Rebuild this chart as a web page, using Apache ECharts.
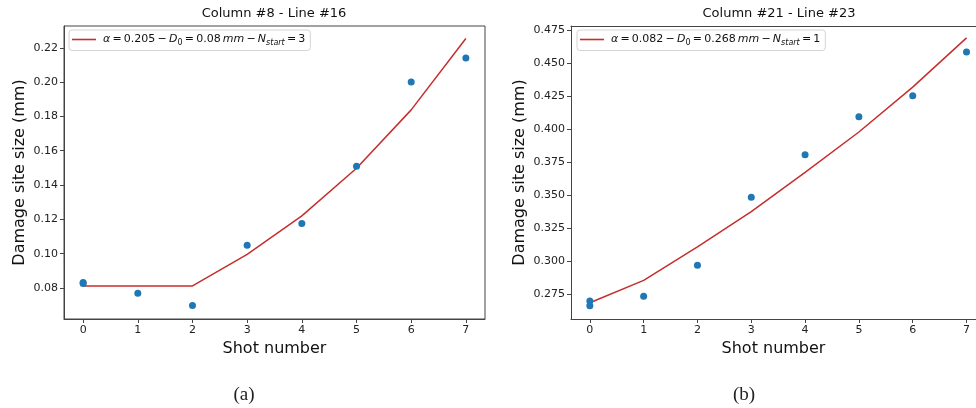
<!DOCTYPE html>
<html>
<head>
<meta charset="utf-8">
<script src="https://cdn.jsdelivr.net/npm/echarts@6/dist/echarts.min.js"></script>
<style>
  html, body { margin: 0; padding: 0; background: #fff; }
  #chart { width: 976px; height: 408px; }
</style>
</head>
<body>
<div id="chart"></div>
<script>
// 横轴刻度
const shotTicks = [0, 1, 2, 3, 4, 5, 6, 7];
const fitShots = [0, 1, 2, 3, 4, 5, 6, 7];

// (a) Column #8 - Line #16
const shotsA = [0, 0, 1, 2, 3, 4, 5, 6, 7];
const sizeA = [0.0832, 0.0826, 0.0769, 0.0697, 0.1049, 0.1175, 0.1510, 0.2001, 0.2141];
const fitA = [0.0812, 0.0812, 0.0812, 0.0996, 0.1220, 0.1498, 0.1838, 0.2254];
const yTicksA = [0.08, 0.10, 0.12, 0.14, 0.16, 0.18, 0.20, 0.22];

// (b) Column #21 - Line #23
const shotsB = [0, 0, 1, 2, 3, 4, 5, 6, 7];
const sizeB = [0.2699, 0.2664, 0.2735, 0.2970, 0.3485, 0.3808, 0.4095, 0.4255, 0.4586];
const fitB = [0.2686, 0.2856, 0.3110, 0.3376, 0.3674, 0.3980, 0.4320, 0.4693];
const yTicksB = [0.275, 0.300, 0.325, 0.350, 0.375, 0.400, 0.425, 0.450, 0.475];

const FONT = 'DejaVu Sans';
const axisColor = '#444';

function pairs(xs, ys) {
  return xs.map((x, i) => [x, ys[i]]);
}

function xAxisCfg(gridIndex, max) {
  return {
    type: 'value',
    gridIndex: gridIndex,
    min: -0.35,
    max: max,
    name: 'Shot number',
    nameLocation: 'middle',
    nameGap: 20,
    nameTextStyle: { fontFamily: FONT, fontSize: 16, color: '#111' },
    axisLine: { show: true, onZero: false, lineStyle: { color: axisColor, width: 1 } },
    axisTick: { show: true, length: 4, customValues: shotTicks, lineStyle: { color: axisColor } },
    axisLabel: { customValues: shotTicks, fontFamily: FONT, fontSize: 11, color: '#222', margin: 6 },
    splitLine: { show: false }
  };
}

function yAxisCfg(gridIndex, min, max, ticks, digits, gap) {
  return {
    type: 'value',
    gridIndex: gridIndex,
    min: min,
    max: max,
    name: 'Damage site size (mm)',
    nameLocation: 'middle',
    nameGap: gap,
    nameTextStyle: { fontFamily: FONT, fontSize: 16, color: '#111' },
    axisLine: { show: true, onZero: false, lineStyle: { color: axisColor, width: 1 } },
    axisTick: { show: true, length: 4, customValues: ticks, lineStyle: { color: axisColor } },
    axisLabel: {
      customValues: ticks,
      fontFamily: FONT, fontSize: 11, color: '#222', margin: 6,
      formatter: v => v.toFixed(digits)
    },
    splitLine: { show: false }
  };
}

const legendRich = {
  i: { fontFamily: FONT, fontSize: 11, fontStyle: 'italic', color: '#111' },
  s: { fontFamily: FONT, fontSize: 8, fontStyle: 'italic', color: '#111', padding: [6, 0, 0, 0] },
  n: { fontFamily: FONT, fontSize: 8, color: '#111', padding: [6, 0, 0, 0] }
};

function legendCfg(name, left, text) {
  return {
    data: [{ name: name, icon: 'rect' }],
    left: left,
    top: 30,
    orient: 'vertical',
    itemWidth: 24,
    itemHeight: 1.6,
    itemGap: 0,
    padding: [4, 5, 4, 3],
    backgroundColor: '#fff',
    borderColor: '#d4d4d4',
    borderWidth: 1,
    borderRadius: 3,
    textStyle: { fontFamily: FONT, fontSize: 11, color: '#111', rich: legendRich, padding: [0, 0, 0, 2] },
    formatter: () => text
  };
}

const chart = echarts.init(document.getElementById('chart'), null, { renderer: 'canvas' });

chart.setOption({
  animation: false,
  backgroundColor: '#fff',
  title: [
    { text: 'Column #8 - Line #16', left: 274, top: 7, padding: 0, textAlign: 'center',
      textStyle: { fontFamily: FONT, fontSize: 13, fontWeight: 'normal', color: '#111' } },
    { text: 'Column #21 - Line #23', left: 779, top: 7, padding: 0, textAlign: 'center',
      textStyle: { fontFamily: FONT, fontSize: 13, fontWeight: 'normal', color: '#111' } },
    { text: '(a)', left: 244, top: 386, padding: 0, textAlign: 'center',
      textStyle: { fontFamily: 'Liberation Serif', fontSize: 19, fontWeight: 'normal', color: '#222' } },
    { text: '(b)', left: 744, top: 386, padding: 0, textAlign: 'center',
      textStyle: { fontFamily: 'Liberation Serif', fontSize: 19, fontWeight: 'normal', color: '#222' } }
  ],
  legend: [
    legendCfg('fitA', 69, '{i|α}\u2009=\u20090.205\u2009−\u2009{i|D}{n|0}\u2009=\u20090.08\u2009{i|mm}\u2009−\u2009{i|N}{s|start}\u2009=\u20093'),
    legendCfg('fitB', 577, '{i|α}\u2009=\u20090.082\u2009−\u2009{i|D}{n|0}\u2009=\u20090.268\u2009{i|mm}\u2009−\u2009{i|N}{s|start}\u2009=\u20091')
  ],
  grid: [
    { left: 64, top: 26, width: 421, height: 293, show: true, borderColor: axisColor, borderWidth: 1, backgroundColor: 'transparent' },
    { left: 571, top: 26, width: 405, height: 293, show: false }
  ],
  xAxis: [
    xAxisCfg(0, 7.35),
    xAxisCfg(1, 7.176),
    // 右图只画上边框（右边框在画面之外）
    {
      type: 'value', gridIndex: 1, position: 'top', min: -0.35, max: 7.176,
      axisLine: { show: true, onZero: false, lineStyle: { color: axisColor, width: 1 } },
      axisTick: { show: false }, axisLabel: { show: false }, splitLine: { show: false }
    }
  ],
  yAxis: [
    yAxisCfg(0, 0.0619, 0.2327, yTicksA, 2, 36),
    yAxisCfg(1, 0.2563, 0.4783, yTicksB, 3, 43)
  ],
  series: [
    {
      name: 'fitA', type: 'line', xAxisIndex: 0, yAxisIndex: 0,
      data: pairs(fitShots, fitA), symbol: 'none',
      lineStyle: { color: '#c62d2d', width: 1.5 }, itemStyle: { color: '#c62d2d' }, z: 2
    },
    {
      name: 'ptsA', type: 'scatter', xAxisIndex: 0, yAxisIndex: 0,
      data: pairs(shotsA, sizeA), symbolSize: 7,
      itemStyle: { color: '#1f77b4', opacity: 1 }, z: 3
    },
    {
      name: 'fitB', type: 'line', xAxisIndex: 1, yAxisIndex: 1,
      data: pairs(fitShots, fitB), symbol: 'none',
      lineStyle: { color: '#c62d2d', width: 1.5 }, itemStyle: { color: '#c62d2d' }, z: 2
    },
    {
      name: 'ptsB', type: 'scatter', xAxisIndex: 1, yAxisIndex: 1,
      data: pairs(shotsB, sizeB), symbolSize: 7,
      itemStyle: { color: '#1f77b4', opacity: 1 }, z: 3
    }
  ]
});
</script>
</body>
</html>
